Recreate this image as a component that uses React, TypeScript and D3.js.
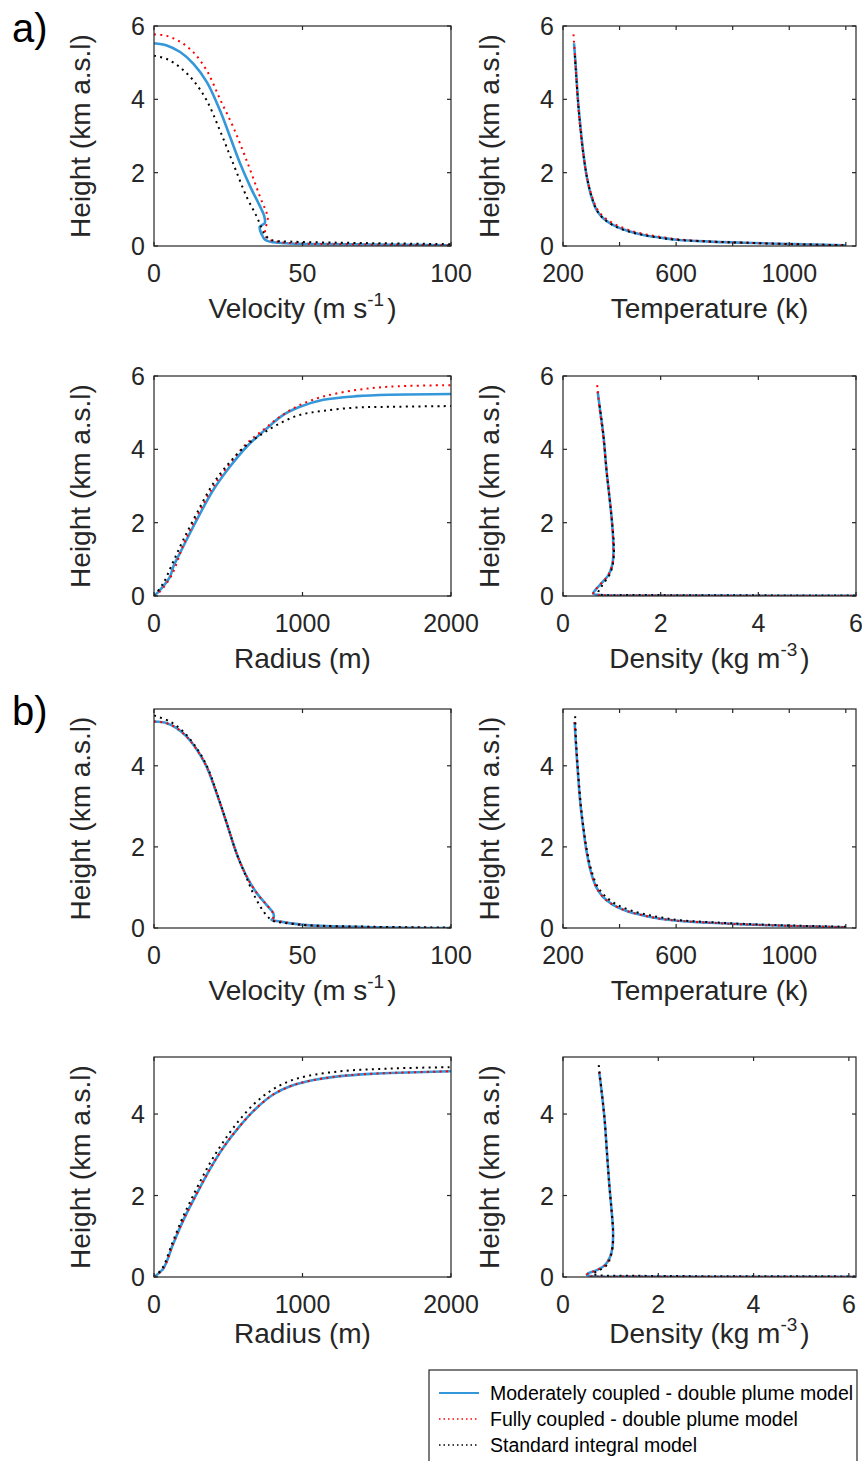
import React from "react";
import * as d3 from "d3";

// ---------- data: [x, height(km)] ----------
// a) velocity (m/s)
const aVelModerate = [[0,5.53],[4.3,5.47],[8.8,5.29],[13.3,4.97],[17.8,4.47],[22.2,3.70],[25.6,2.98],[29.0,2.25],[32.4,1.62],[35.7,1.08],[37.1,0.82],[37.3,0.63],[35.6,0.52],[36.3,0.31],[37.4,0.17],[40.2,0.10],[45.8,0.07],[57,0.05],[74,0.04],[100,0.02]];
const aVelFully = [[0,5.77],[4.3,5.73],[8.8,5.57],[13.3,5.28],[17.8,4.78],[22.2,4.01],[26.7,3.24],[31.2,2.33],[35.7,1.34],[38.3,0.76],[37.4,0.43],[38.0,0.21],[41.3,0.12],[49,0.07],[70,0.04],[100,0.02]];
const aVelStandard = [[0,5.19],[4.3,5.10],[8.8,4.87],[13.3,4.51],[17.8,3.96],[22.2,3.15],[26.7,2.24],[31.2,1.34],[34.6,0.80],[36.3,0.48],[37.4,0.30],[39.7,0.16],[45.8,0.12],[62.7,0.09],[80,0.07],[100,0.05]];

// a) temperature (K)
const aTempModerate = [[239,5.53],[246,4.80],[254,3.89],[263,3.16],[272,2.53],[284,1.89],[301,1.34],[319,0.98],[343,0.75],[378,0.57],[425,0.42],[484,0.30],[543,0.23],[602,0.17],[720,0.12],[838,0.09],[1015,0.05],[1200,0.02]];
const aTempFully = [[237,5.77],[244,5.00],[252,4.00],[261,3.20],[271,2.55],[284,1.90],[302,1.36],[322,0.99],[348,0.77],[384,0.59],[431,0.44],[490,0.32],[550,0.24],[610,0.18],[722,0.12],[840,0.09],[1015,0.05],[1200,0.02]];
const aTempStandard = [[242,5.19],[247,4.60],[254,3.85],[263,3.12],[272,2.50],[285,1.87],[302,1.32],[320,0.97],[344,0.74],[378,0.56],[425,0.41],[484,0.30],[543,0.22],[602,0.17],[720,0.12],[838,0.09],[1015,0.05],[1198,0.02]];

// a) radius (m)
const aRadModerate = [[0,0],[40,0.16],[108,0.53],[130,0.80],[197,1.35],[287,2.07],[399,2.89],[512,3.53],[624,4.07],[759,4.57],[871,4.94],[983,5.16],[1140,5.35],[1365,5.45],[1589,5.49],[2000,5.51]];
const aRadFully = [[0,0],[40,0.12],[119,0.57],[197,1.39],[287,2.16],[399,2.98],[512,3.62],[624,4.16],[736,4.53],[848,4.89],[983,5.21],[1140,5.44],[1365,5.62],[1589,5.71],[2000,5.75]];
const aRadStandard = [[0,0],[63,0.35],[130,0.94],[197,1.53],[287,2.25],[399,3.07],[512,3.66],[624,4.12],[736,4.44],[848,4.71],[983,4.94],[1140,5.05],[1365,5.14],[1589,5.16],[2000,5.18]];

// a) density (kg/m3)
const aDenModerate = [[0.71,5.57],[0.76,5.07],[0.83,4.35],[0.89,3.44],[0.95,2.71],[1.00,2.07],[1.03,1.44],[1.03,1.07],[1.00,0.80],[0.93,0.57],[0.79,0.35],[0.66,0.16],[0.62,0.07],[0.70,0.03],[1.5,0.015],[3.0,0.01],[6.2,0.006]];
const aDenFully = [[0.70,5.75],[0.75,5.10],[0.82,4.40],[0.89,3.46],[0.95,2.72],[1.00,2.08],[1.03,1.45],[1.03,1.07],[1.00,0.80],[0.92,0.56],[0.78,0.34],[0.65,0.15],[0.62,0.06],[0.72,0.03],[1.5,0.015],[3.0,0.01],[6.2,0.006]];
const aDenStandard = [[0.75,5.19],[0.83,4.35],[0.89,3.44],[0.95,2.71],[1.00,2.07],[1.04,1.44],[1.04,1.07],[1.01,0.80],[0.95,0.57],[0.84,0.36],[0.76,0.20],[0.72,0.10],[0.74,0.05],[1.5,0.03],[3.0,0.02],[6.2,0.015]];

// b) velocity (m/s)
const bVelModerate = [[0,5.09],[4.3,5.05],[7.6,4.93],[11.0,4.72],[14.4,4.40],[17.7,3.98],[21.1,3.32],[24.5,2.58],[27.8,1.84],[31.2,1.27],[34.6,0.86],[37.9,0.57],[40.2,0.36],[40.2,0.24],[39.6,0.20],[42.4,0.16],[51.4,0.07],[73.8,0.02],[100,0.0]];
const bVelFully = [[0,5.09],[4.3,5.05],[7.6,4.93],[11.0,4.72],[14.4,4.40],[17.7,3.98],[21.1,3.32],[24.5,2.58],[27.8,1.84],[31.2,1.27],[34.6,0.86],[37.9,0.57],[40.1,0.36],[40.1,0.24],[39.5,0.20],[42.4,0.16],[51.4,0.07],[73.8,0.02],[100,0.0]];
const bVelStandard = [[0,5.24],[5.4,5.09],[9.9,4.84],[14.4,4.43],[17.9,3.98],[21.2,3.32],[24.5,2.58],[27.8,1.84],[31.0,1.27],[33.9,0.78],[37.9,0.31],[40.2,0.17],[43.5,0.13],[51.4,0.07],[73.8,0.03],[100,0.01]];

// b) temperature (K)
const bTempModerate = [[241,5.08],[246,4.50],[253,3.80],[261,3.10],[271,2.50],[283,1.90],[300,1.35],[318,1.00],[342,0.76],[377,0.57],[425,0.42],[484,0.31],[543,0.23],[602,0.18],[720,0.13],[838,0.09],[1015,0.05],[1200,0.02]];
const bTempFully = [[241,5.08],[246,4.50],[253,3.80],[261,3.10],[271,2.50],[283,1.90],[300,1.35],[318,1.00],[342,0.76],[377,0.57],[425,0.42],[484,0.31],[543,0.23],[602,0.18],[720,0.13],[838,0.09],[1015,0.05],[1200,0.02]];
const bTempStandard = [[243,5.22],[247,4.50],[254,3.80],[262,3.10],[272,2.50],[285,1.90],[303,1.36],[323,1.01],[350,0.78],[387,0.59],[437,0.44],[496,0.33],[555,0.25],[615,0.19],[730,0.14],[845,0.10],[1015,0.06],[1200,0.03]];

// b) radius (m)
const bRadModerate = [[0,0],[63,0.21],[130,0.82],[197,1.39],[287,2.04],[377,2.65],[467,3.18],[579,3.71],[691,4.15],[803,4.48],[916,4.68],[1028,4.80],[1253,4.93],[1477,4.99],[1702,5.02],[2000,5.05]];
const bRadFully = [[0,0],[63,0.21],[130,0.82],[197,1.39],[287,2.04],[377,2.65],[467,3.18],[579,3.71],[691,4.15],[803,4.48],[916,4.68],[1028,4.80],[1253,4.93],[1477,4.99],[1702,5.02],[2000,5.05]];
const bRadStandard = [[0,0],[55,0.21],[125,0.85],[192,1.45],[280,2.12],[370,2.75],[460,3.28],[570,3.83],[680,4.27],[790,4.58],[900,4.79],[1028,4.93],[1253,5.05],[1477,5.10],[1702,5.13],[2000,5.15]];

// b) density (kg/m3)
const bDenModerate = [[0.76,5.03],[0.81,4.56],[0.87,3.91],[0.92,3.10],[0.97,2.29],[1.02,1.63],[1.05,1.15],[1.04,0.74],[0.99,0.50],[0.88,0.29],[0.71,0.17],[0.53,0.09],[0.50,0.05],[0.60,0.02],[1.5,0.01],[3.0,0.007],[6.3,0.005]];
const bDenFully = [[0.76,5.03],[0.81,4.56],[0.87,3.91],[0.92,3.10],[0.97,2.29],[1.02,1.63],[1.05,1.15],[1.04,0.74],[0.99,0.50],[0.88,0.29],[0.71,0.17],[0.53,0.09],[0.50,0.05],[0.60,0.02],[1.5,0.01],[3.0,0.007],[6.3,0.005]];
const bDenStandard = [[0.75,5.20],[0.81,4.56],[0.87,3.91],[0.92,3.10],[0.97,2.29],[1.02,1.63],[1.05,1.15],[1.04,0.74],[1.00,0.50],[0.93,0.31],[0.80,0.19],[0.68,0.12],[0.62,0.08],[0.80,0.04],[1.5,0.03],[3.0,0.02],[6.3,0.015]];

// ticks
const velTicks = [0, 50, 100];
const velTickLabels = ["0", "50", "100"];
const tempTicks = [200, 400, 600, 800, 1000, 1200];
const tempTickLabels = ["200", "", "600", "", "1000", ""];
const radTicks = [0, 1000, 2000];
const radTickLabels = ["0", "1000", "2000"];
const denTicks = [0, 2, 4, 6];
const denTickLabels = ["0", "2", "4", "6"];
const heightTicksA = [0, 2, 4, 6];
const heightTicksB = [0, 2, 4];

const legendLabels = [
  "Moderately coupled - double plume model",
  "Fully coupled - double plume model",
  "Standard integral model",
];

const BLUE = "#3497da";
const RED = "#ff0000";
const BLACK = "#000000";
const AX = "#262626";
const FONT = "'Liberation Sans', Arial, Helvetica, sans-serif";

type Pt = number[];
type PanelProps = {
  id: string;
  left: number; top: number; width: number; height: number;
  xDomain: [number, number]; yDomain: [number, number];
  xTicks: number[]; xTickLabels: string[];
  yTicks: number[];
  xLabel: React.ReactNode; labelOffset: number;
  moderate: Pt[]; fully: Pt[]; standard: Pt[];
};

function Panel(p: PanelProps) {
  const x = d3.scaleLinear().domain(p.xDomain).range([p.left, p.left + p.width]);
  const y = d3.scaleLinear().domain(p.yDomain).range([p.top + p.height, p.top]);
  const line = d3.line<Pt>().x((d) => x(d[0])).y((d) => y(d[1])).curve(d3.curveCatmullRom.alpha(0.5));
  const bottom = p.top + p.height;
  const right = p.left + p.width;
  const tl = 4;
  return (
    <g>
      <defs>
        <clipPath id={p.id}>
          <rect x={p.left} y={p.top - 2} width={p.width} height={p.height + 2} />
        </clipPath>
      </defs>
      <g clipPath={`url(#${p.id})`} fill="none">
        <path d={line(p.moderate) || ""} stroke={BLUE} strokeWidth={2.6} strokeLinejoin="round" />
        <path d={line(p.fully) || ""} stroke={RED} strokeWidth={2} strokeDasharray="2 4.3" />
        <path d={line(p.standard) || ""} stroke={BLACK} strokeWidth={2} strokeDasharray="2 4.3" />
      </g>
      <rect x={p.left} y={p.top} width={p.width} height={p.height} fill="none" stroke={AX} strokeWidth={1.2} />
      {p.xTicks.map((t, i) => (
        <g key={"x" + i}>
          <line x1={x(t)} x2={x(t)} y1={bottom} y2={bottom - tl} stroke={AX} strokeWidth={1.2} />
          <line x1={x(t)} x2={x(t)} y1={p.top} y2={p.top + tl} stroke={AX} strokeWidth={1.2} />
          <text x={x(t)} y={bottom + 36} textAnchor="middle" fontSize={25} fill={AX} fontFamily={FONT}>{p.xTickLabels[i]}</text>
        </g>
      ))}
      {p.yTicks.map((t, i) => (
        <g key={"y" + i}>
          <line x1={p.left} x2={p.left + tl} y1={y(t)} y2={y(t)} stroke={AX} strokeWidth={1.2} />
          <line x1={right} x2={right - tl} y1={y(t)} y2={y(t)} stroke={AX} strokeWidth={1.2} />
          <text x={p.left - 9} y={y(t)} dy="0.36em" textAnchor="end" fontSize={25} fill={AX} fontFamily={FONT}>{String(t)}</text>
        </g>
      ))}
      <text transform={`translate(${p.left - 64},${p.top + p.height / 2}) rotate(-90)`} textAnchor="middle" fontSize={28} fill={AX} fontFamily={FONT}>
        Height (km a.s.l)
      </text>
      <text x={p.left + p.width / 2} y={bottom + p.labelOffset} textAnchor="middle" fontSize={28} fill={AX} fontFamily={FONT}>
        {p.xLabel}
      </text>
    </g>
  );
}

const velLabel = (
  <>
    Velocity (m s<tspan fontSize={19} dy={-12}>-1</tspan><tspan dy={12} dx={3}>)</tspan>
  </>
);
const tempLabel = <>Temperature (k)</>;
const radLabel = <>Radius (m)</>;
const denLabel = (
  <>
    Density (kg m<tspan fontSize={19} dy={-12}>-3</tspan><tspan dy={12} dx={3}>)</tspan>
  </>
);

export default function App() {
  const L1 = 154, W1 = 297;
  const L2 = 563, W2 = 293;
  const H = 220;
  const rows = [26, 376, 709, 1057];
  const legendColors = [BLUE, RED, BLACK];
  return (
    <svg width={862} height={1461} style={{ position: "absolute", left: 0, top: 0, background: "#fff" }}>
      <rect x={0} y={0} width={862} height={1461} fill="#fff" />
      <text x={12} y={42} fontSize={40} fill="#000" fontFamily={FONT}>a)</text>
      <text x={12} y={725} fontSize={40} fill="#000" fontFamily={FONT}>b)</text>

      <Panel id="c1" left={L1} top={rows[0]} width={W1} height={H} xDomain={[0, 100]} yDomain={[0, 6]}
        xTicks={velTicks} xTickLabels={velTickLabels} yTicks={heightTicksA} xLabel={velLabel} labelOffset={72}
        moderate={aVelModerate} fully={aVelFully} standard={aVelStandard} />
      <Panel id="c2" left={L2} top={rows[0]} width={W2} height={H} xDomain={[200, 1236]} yDomain={[0, 6]}
        xTicks={tempTicks} xTickLabels={tempTickLabels} yTicks={heightTicksA} xLabel={tempLabel} labelOffset={72}
        moderate={aTempModerate} fully={aTempFully} standard={aTempStandard} />
      <Panel id="c3" left={L1} top={rows[1]} width={W1} height={H} xDomain={[0, 2000]} yDomain={[0, 6]}
        xTicks={radTicks} xTickLabels={radTickLabels} yTicks={heightTicksA} xLabel={radLabel} labelOffset={72}
        moderate={aRadModerate} fully={aRadFully} standard={aRadStandard} />
      <Panel id="c4" left={L2} top={rows[1]} width={W2} height={H} xDomain={[0, 6]} yDomain={[0, 6]}
        xTicks={denTicks} xTickLabels={denTickLabels} yTicks={heightTicksA} xLabel={denLabel} labelOffset={72}
        moderate={aDenModerate} fully={aDenFully} standard={aDenStandard} />

      <Panel id="c5" left={L1} top={rows[2]} width={W1} height={219} xDomain={[0, 100]} yDomain={[0, 5.4]}
        xTicks={velTicks} xTickLabels={velTickLabels} yTicks={heightTicksB} xLabel={velLabel} labelOffset={72}
        moderate={bVelModerate} fully={bVelFully} standard={bVelStandard} />
      <Panel id="c6" left={L2} top={rows[2]} width={W2} height={219} xDomain={[200, 1236]} yDomain={[0, 5.4]}
        xTicks={tempTicks} xTickLabels={tempTickLabels} yTicks={heightTicksB} xLabel={tempLabel} labelOffset={72}
        moderate={bTempModerate} fully={bTempFully} standard={bTempStandard} />
      <Panel id="c7" left={L1} top={rows[3]} width={W1} height={220} xDomain={[0, 2000]} yDomain={[0, 5.4]}
        xTicks={radTicks} xTickLabels={radTickLabels} yTicks={heightTicksB} xLabel={radLabel} labelOffset={66}
        moderate={bRadModerate} fully={bRadFully} standard={bRadStandard} />
      <Panel id="c8" left={L2} top={rows[3]} width={W2} height={220} xDomain={[0, 6.15]} yDomain={[0, 5.4]}
        xTicks={denTicks} xTickLabels={denTickLabels} yTicks={heightTicksB} xLabel={denLabel} labelOffset={66}
        moderate={bDenModerate} fully={bDenFully} standard={bDenStandard} />

      <g>
        <rect x={429} y={1370} width={428} height={100} fill="#fff" stroke={AX} strokeWidth={1.2} />
        {legendLabels.map((lab, i) => {
          const cy = 1393 + i * 26;
          return (
            <g key={lab}>
              <line x1={439} x2={479} y1={cy} y2={cy} stroke={legendColors[i]}
                strokeWidth={i === 0 ? 2 : 1.6} strokeDasharray={i === 0 ? undefined : "1.5 3"} />
              <text x={490} y={cy} dy="0.35em" fontSize={19.5} fill="#000" fontFamily={FONT}>{lab}</text>
            </g>
          );
        })}
      </g>
    </svg>
  );
}
